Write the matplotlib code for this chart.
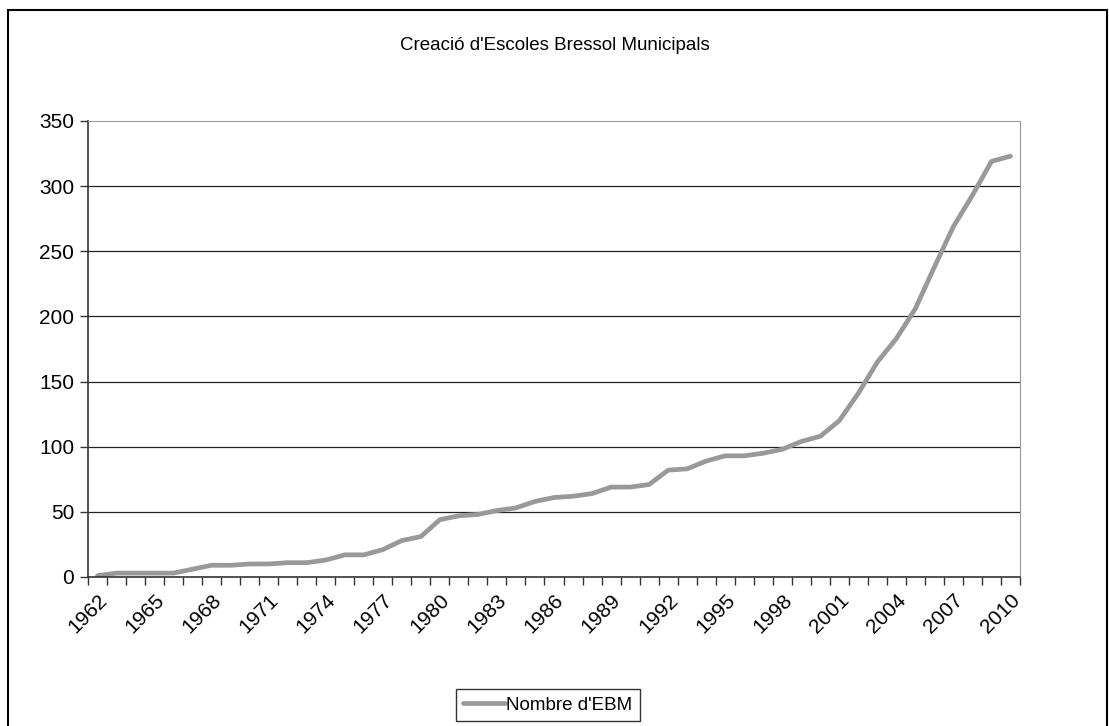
import matplotlib
matplotlib.use("Agg")
import matplotlib.pyplot as plt
from matplotlib.patches import Rectangle
import numpy as np

plt.rcParams['font.family'] = ['Liberation Sans', 'DejaVu Sans']

# Dades: nombre acumulat d'escoles bressol municipals per any
anys = list(range(1962, 2011))
nombre_ebm = [1, 3, 3, 3, 3, 6, 9, 9, 10, 10,
              11, 11, 13, 17, 17, 21, 28, 31, 44, 47,
              48, 51, 53, 58, 61, 62, 64, 69, 69, 71,
              82, 83, 89, 93, 93, 95, 98, 104, 108, 120,
              141, 165, 183, 206, 238, 269, 293, 319, 323]
y_ticks = [0, 50, 100, 150, 200, 250, 300, 350]

fig = plt.figure(figsize=(11.09, 7.26), dpi=100)
fig.patch.set_facecolor('white')

# Marc exterior del grafic
fig.patches.append(Rectangle((8 / 1109, -0.01), 1099 / 1109, 1 - 10 / 726 + 0.01,
                             transform=fig.transFigure, fill=False,
                             edgecolor='black', linewidth=1.5))

ax = fig.add_axes([88 / 1109, 1 - 577 / 726, 932 / 1109, 456 / 726])

x = np.arange(len(anys))
linia, = ax.plot(x, nombre_ebm, color='#999999', linewidth=3.4,
                 solid_capstyle='round', solid_joinstyle='round', label="Nombre d'EBM")

ax.set_xlim(-0.5, len(anys) - 0.5)
ax.set_ylim(0, 350)

# Eix Y
ax.set_yticks(y_ticks)
ax.set_yticklabels([str(v) for v in y_ticks], fontsize=15)
ax.tick_params(axis='y', direction='out', length=6, width=1, color='#333333', pad=4)
for v in y_ticks[1:-1]:
    ax.axhline(v, color='#222222', linewidth=0.9, zorder=0)

# Eix X: etiquetes cada 3 anys, marques entre categories
idx = x[::3]
ax.set_xticks(idx)
ax.set_xticklabels([str(anys[i]) for i in idx], fontsize=15, rotation=45,
                   ha='right', rotation_mode='anchor')
ax.tick_params(axis='x', which='major', length=0, pad=10)
ax.set_xticks(np.arange(-0.5, len(anys), 1.0), minor=True)
ax.tick_params(axis='x', which='minor', direction='out', length=6, width=1, color='#333333')

ax.spines['left'].set_color('#333333')
ax.spines['bottom'].set_color('#333333')
ax.spines['left'].set_linewidth(1.2)
ax.spines['bottom'].set_linewidth(1.2)
ax.spines['top'].set_color('#999999')
ax.spines['right'].set_color('#999999')

fig.text(0.5, 1 - 45 / 726, "Creació d'Escoles Bressol Municipals",
         fontsize=13.5, ha='center', va='center', color='black')

leg = fig.legend(handles=[linia], loc='center', bbox_to_anchor=(548 / 1109, 1 - 705 / 726),
                 fontsize=13.5, frameon=True, fancybox=False, handlelength=2.2,
                 handletextpad=0.1, borderpad=0.4)
leg.get_frame().set_edgecolor('black')
leg.get_frame().set_linewidth(1.0)

fig.savefig('out.png', dpi=100, facecolor='white')
